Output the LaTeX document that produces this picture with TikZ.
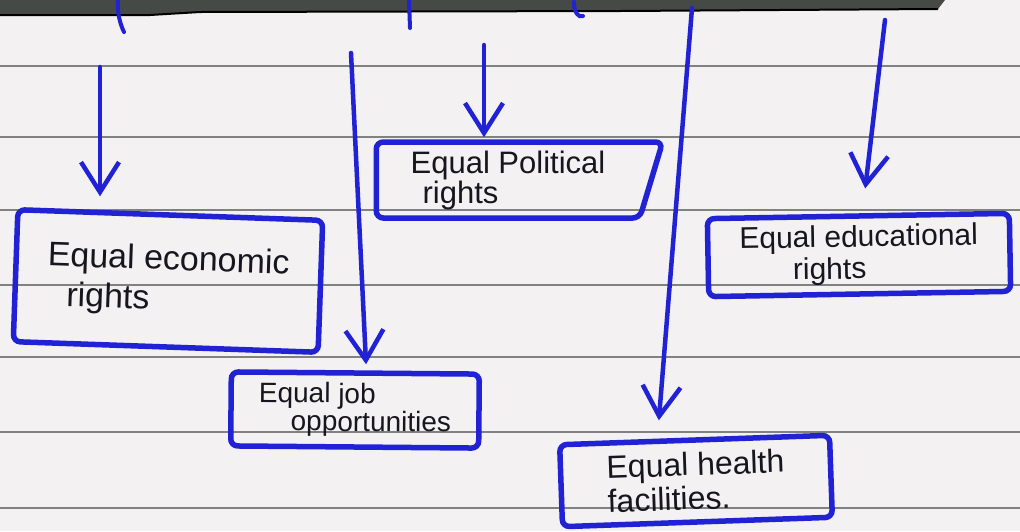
\documentclass[tikz,border=0pt]{standalone}
\usepackage{fontspec}
\setmainfont{Liberation Sans}
\usetikzlibrary{arrows.meta,shapes.geometric,calc}
\definecolor{ink}{RGB}{32,34,212}
\definecolor{paper}{RGB}{244,241,243}
\definecolor{rulecol}{RGB}{128,130,128}
\definecolor{band}{RGB}{70,74,70}
\definecolor{pencil}{RGB}{22,22,30}
\begin{document}
\begin{tikzpicture}[x=1pt,y=-1pt,
  box/.style={draw=ink, line width=5.5pt, rounded corners=7pt, inner sep=0pt, text=pencil, align=left},
  arr/.style={draw=ink, line width=4.5pt, line cap=round, -{Straight Barb[length=30pt,width=38pt]}},
  inkline/.style={draw=ink, line width=4pt, line cap=round},
  ruling/.style={draw=rulecol, line width=1.6pt}]
\useasboundingbox (0,0) rectangle (1020,531);
\fill[paper] (0,0) rectangle (1020,531);
% ruled lines of the notebook page
\foreach \yy in {66,137,210,285,357,432,508}
  \draw[ruling] (0,\yy) -- (1020,\yy);
% dark band at the top edge
\fill[band] (0,0) -- (945,0) -- (938,9) -- (620,11) -- (200,12) -- (150,15) -- (0,15) -- cycle;
\draw[black, line width=2pt] (0,15) -- (150,15) -- (200,12) -- (620,11) -- (938,9);
% cut-off strokes of the heading
\draw[inkline] (118,0) .. controls (117,12) and (120,24) .. (124,32);
\draw[inkline] (409,0) -- (410,28);
\draw[inkline] (574,2) .. controls (574,12) and (578,18) .. (583,16);
% boxes
\node[box, minimum width=305pt, minimum height=132pt, rotate=-2,
      font=\fontsize{34}{40}\selectfont] (econ) at (168,281)
      {Equal economic\\\hspace*{20pt}rights};
\node[box, trapezium, trapezium left angle=74, trapezium right angle=90,
      shape border rotate=180, trapezium stretches=true,
      minimum width=287pt, minimum height=76pt,
      font=\fontsize{31}{30}\selectfont] (pol) at (508,180)
      {Equal Political\\\hspace*{12pt}rights};
\node[box, minimum width=302pt, minimum height=78pt, rotate=1,
      font=\fontsize{30}{32}\selectfont] (edu) at (859,255)
      {Equal educational\\\hspace*{53pt}rights};
\node[box, minimum width=248pt, minimum height=74pt, rotate=-0.5,
      font=\fontsize{28}{28}\selectfont] (job) at (355,410)
      {Equal job\\\hspace*{32pt}opportunities};
\node[box, minimum width=270pt, minimum height=82pt, rotate=2,
      font=\fontsize{32}{34}\selectfont] (health) at (696,481)
      {Equal health\\facilities.};
% arrows
\coordinate (s1) at (100,67);
\coordinate (s2) at (351,53);
\coordinate (s3) at (484,45);
\coordinate (s4) at (692,8);
\coordinate (s5) at (885,20);
\draw[arr, shorten >=16pt] (s1) -- (s1 |- econ.north);
\draw[arr, shorten >=6pt] (s2) -- ([xshift=11pt]job.north);
\draw[arr, shorten >=2pt] (s3) -- (s3 |- pol.north);
\draw[arr, shorten >=17pt] (s4) -- ([xshift=-37pt]health.north);
\draw[arr, shorten >=25pt] (s5) -- ([xshift=4pt]edu.north);
\end{tikzpicture}
\end{document}
